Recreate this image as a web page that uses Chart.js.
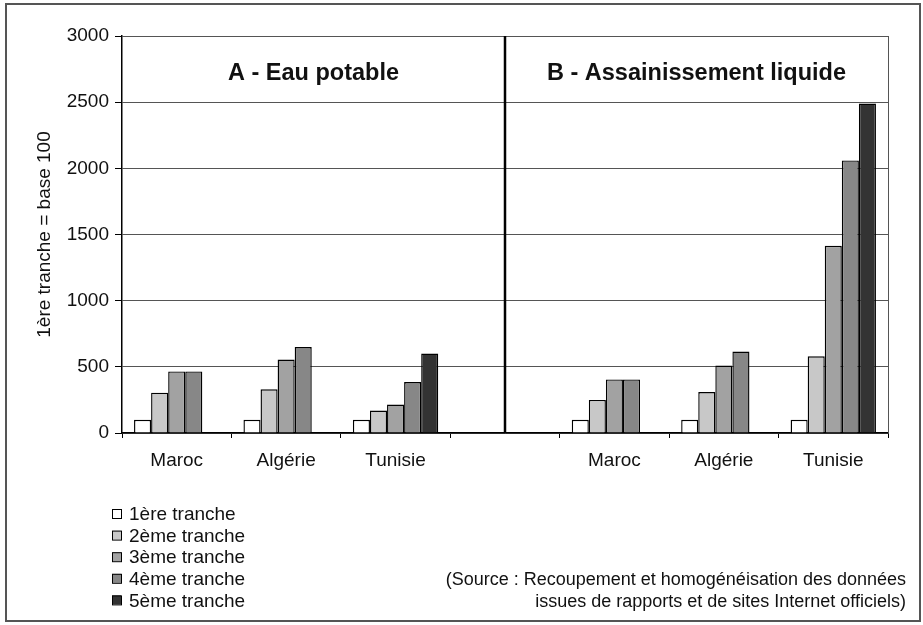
<!DOCTYPE html>
<html>
<head>
<meta charset="utf-8">
<script src="https://cdn.jsdelivr.net/npm/chart.js@4"></script>
<style>
  html, body { margin: 0; padding: 0; background: #fff; }
  canvas { display: block; }
</style>
</head>
<body>
<canvas id="tarifChart" width="923" height="625"></canvas>
<script>
// donnees (1ere tranche = base 100)
const categories = ['Maroc', 'Algérie', 'Tunisie', '', 'Maroc', 'Algérie', 'Tunisie'];
const tranche1 = [100, 100, 100, null, 100, 100, 100];
const tranche2 = [305, 330, 170, null, 250, 310, 580];
const tranche3 = [465, 555, 215, null, 405, 510, 1415];
const tranche4 = [465, 650, 385, null, 405, 615, 2060];
const tranche5 = [null, null, 600, null, null, null, 2490];
const seriesNames = ['1ère tranche', '2ème tranche', '3ème tranche', '4ème tranche', '5ème tranche'];
const seriesColors = ['#ffffff', '#c8c8c8', '#a2a2a2', '#878787', '#333333'];
const panelTitles = ['A - Eau potable', 'B - Assainissement liquide'];
const sourceLines = [
  '(Source : Recoupement et homogénéisation des données',
  'issues de rapports et de sites Internet officiels)'
];
const yTitle = '1ère tranche = base 100';

const FONT = 'Arial, "Liberation Sans", sans-serif';

// dessin des elements annexes : cadre, separation, titres, legende, source
const decorPlugin = {
  id: 'decor',
  beforeDraw(chart) {
    const ctx = chart.ctx;
    ctx.save();
    ctx.fillStyle = '#fff';
    ctx.fillRect(0, 0, chart.width, chart.height);
    ctx.restore();
  },
  afterDraw(chart) {
    const ctx = chart.ctx;
    const area = chart.chartArea;
    const x = chart.scales.x;
    const y = chart.scales.y;
    ctx.save();

    // cadre exterieur
    ctx.strokeStyle = '#555';
    ctx.lineWidth = 2;
    ctx.strokeRect(6, 4, 914, 617);

    // bord droit de la zone de trace
    ctx.strokeStyle = '#555';
    ctx.lineWidth = 1;
    ctx.beginPath();
    ctx.moveTo(Math.round(area.right) + 0.5, area.top);
    ctx.lineTo(Math.round(area.right) + 0.5, area.bottom);
    ctx.stroke();

    // ligne de separation A / B
    const midX = Math.round(x.getPixelForValue(3));
    ctx.strokeStyle = '#000';
    ctx.lineWidth = 2.5;
    ctx.beginPath();
    ctx.moveTo(midX, area.top);
    ctx.lineTo(midX, area.bottom);
    ctx.stroke();

    // titres des panneaux
    ctx.fillStyle = '#111';
    ctx.font = 'bold 23.5px ' + FONT;
    ctx.textAlign = 'center';
    ctx.textBaseline = 'alphabetic';
    const ty = y.getPixelForValue(2750) + 11;
    ctx.fillText(panelTitles[0], (area.left + midX) / 2, ty);
    ctx.fillText(panelTitles[1], (midX + area.right) / 2, ty);

    // legende
    ctx.font = '19px ' + FONT;
    ctx.textAlign = 'left';
    ctx.textBaseline = 'middle';
    chart.data.datasets.forEach((ds, i) => {
      const cy = 514 + i * 21.6;
      ctx.fillStyle = ds.backgroundColor;
      ctx.fillRect(112, cy - 5, 9, 9);
      ctx.strokeStyle = '#000';
      ctx.lineWidth = 1;
      ctx.strokeRect(112.5, cy - 4.5, 9, 9);
      ctx.fillStyle = '#111';
      ctx.fillText(ds.label, 129, cy + 1);
    });

    // source
    ctx.font = '18px ' + FONT;
    ctx.textAlign = 'right';
    sourceLines.forEach((line, i) => {
      ctx.fillText(line, 906, 580 + i * 22);
    });

    ctx.restore();
  }
};

const datasets = [tranche1, tranche2, tranche3, tranche4, tranche5].map((values, i) => ({
  label: seriesNames[i],
  data: values,
  backgroundColor: seriesColors[i],
  borderColor: '#000',
  borderWidth: 1.4,
  categoryPercentage: 0.78,
  barPercentage: 1.0
}));

new Chart(document.getElementById('tarifChart').getContext('2d'), {
  type: 'bar',
  data: { labels: categories, datasets: datasets },
  plugins: [decorPlugin],
  options: {
    responsive: false,
    animation: false,
    devicePixelRatio: 1,
    layout: { padding: { left: 0, top: 36, right: 35, bottom: 0 } },
    plugins: {
      legend: { display: false },
      tooltip: { enabled: false }
    },
    scales: {
      x: {
        afterFit: (scale) => { scale.height = 192; },
        grid: {
          drawOnChartArea: false,
          drawTicks: true,
          tickLength: 5,
          color: '#000',
          offset: true
        },
        border: { color: '#000', width: 1.5 },
        ticks: {
          color: '#111',
          padding: 11,
          maxRotation: 0,
          autoSkip: false,
          font: { family: FONT, size: 19 }
        }
      },
      y: {
        min: 0,
        max: 3000,
        afterFit: (scale) => { scale.width = 122; },
        grid: {
          color: '#555',
          lineWidth: 1,
          drawTicks: true,
          tickLength: 7,
          tickColor: '#000'
        },
        border: { color: '#000', width: 1.5 },
        ticks: {
          stepSize: 500,
          color: '#111',
          padding: 6,
          font: { family: FONT, size: 19 },
          callback: (value) => String(value)
        },
        title: {
          display: true,
          text: yTitle,
          color: '#111',
          padding: { top: 33, bottom: 0 },
          font: { family: FONT, size: 19 }
        }
      }
    }
  }
});
</script>
</body>
</html>
